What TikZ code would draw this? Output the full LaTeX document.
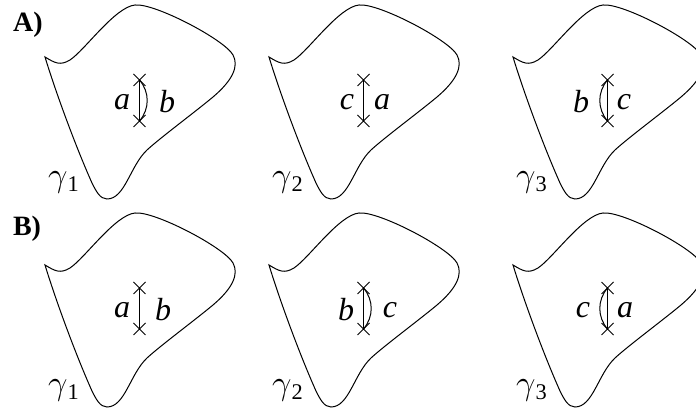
\documentclass[tikz,border=0pt]{standalone}
\usepackage{fontspec}
\setmainfont{Liberation Serif}
\usetikzlibrary{shapes.misc}

\newcommand{\blob}{%
\draw (45,57) .. controls (55,63) and (60,66) .. (70,60)
      .. controls (85,50) and (115,7) .. (135,5)
      .. controls (155,3) and (225,40) .. (233,55)
      .. controls (239,66) and (233,80) .. (213,97)
      .. controls (195,112) and (160,138) .. (147,150)
      .. controls (130,166) and (125,199) .. (107,199)
      .. controls (100,199) and (96,191) .. (92,183)
      .. controls (75,145) and (55,90) .. (45,57) -- cycle;}

\begin{document}
\begin{tikzpicture}[x=.5pt,y=-.5pt,line width=.5pt,
  crossmark/.style={draw,cross out,minimum size=5.5pt,inner sep=0pt},
  lab/.style={font=\fontsize{16}{19}\selectfont\itshape},
  head/.style={font=\fontsize{14}{17}\selectfont\bfseries}]
\clip (0,0) rectangle (696,410);
\node[head] (headA) at (28,25) {A)};
\node[head] (headB) at (27,229) {B)};
\foreach \i/\dx/\dy/\k/\l/\r/\lx/\rx in {1/0/0/1/a/b/122/167,2/224/0/2/c/a/123/158,3/468/0/3/b/c/113/156,
                                          4/0/208/1/a/b/122/163,5/224/208/2/b/c/122/166,6/468/208/3/c/a/115/157}{
  \begin{scope}[shift={(\dx,\dy)}]
  \blob
  \node[crossmark] (xt\i) at (139.5,80) {};
  \node[crossmark] (xb\i) at (139.5,121) {};
  \draw (xt\i.center) -- (xb\i.center);
  \node[lab] (l\i) at (\lx,102) {\l};
  \node[lab] (r\i) at (\rx,102) {\r};
  \node[lab] (g\i) at (64,182) {$\gamma$\textup{\textsubscript{\k}}};
  \end{scope}
}
% exchange arcs
\foreach \i/\b in {1/40,3/-40,5/40,6/-40}
  \draw (xt\i.center) to[bend left=\b] (xb\i.center);
\end{tikzpicture}
\end{document}
